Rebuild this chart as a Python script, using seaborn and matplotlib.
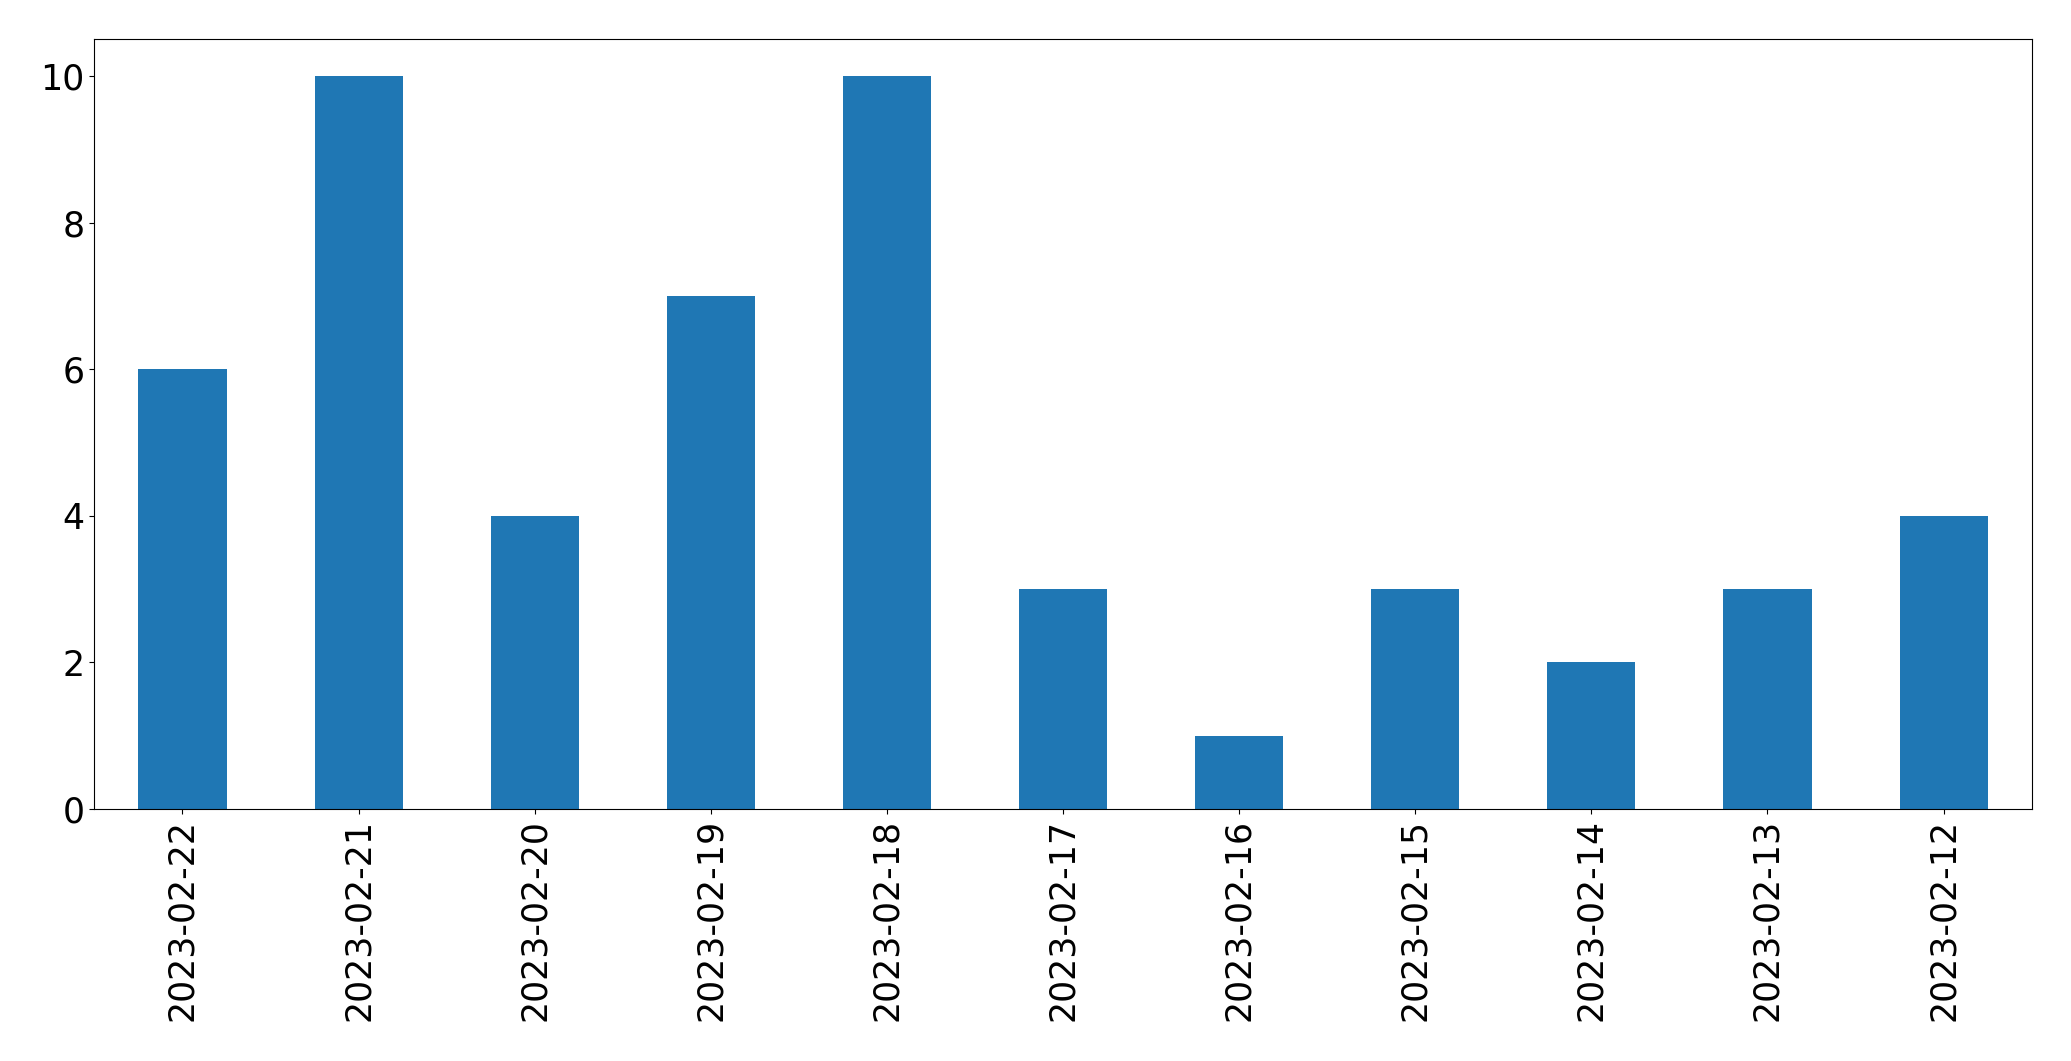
import pandas as pd
import matplotlib
matplotlib.use("Agg")
import matplotlib.pyplot as plt
import seaborn as sns

# daily counts, newest first (as in the reference)
dates = ["2023-02-22", "2023-02-21", "2023-02-20", "2023-02-19", "2023-02-18",
         "2023-02-17", "2023-02-16", "2023-02-15", "2023-02-14", "2023-02-13",
         "2023-02-12"]
counts = [6, 10, 4, 7, 10, 3, 1, 3, 2, 3, 4]

df = pd.DataFrame({"date": dates, "count": counts})

fig, ax = plt.subplots(figsize=(20.71, 10.61), dpi=100)
sns.barplot(data=df, x="date", y="count", order=dates, color="#1f77b4",
            saturation=1, width=0.5, linewidth=0, ax=ax)

ax.set_xlabel("")
ax.set_ylabel("")
ax.tick_params(axis="both", labelsize=25)
ax.tick_params(axis="x", labelrotation=90)
ax.set_xlim(-0.5, len(dates) - 0.5)
ax.set_ylim(0, 10.5)

plt.subplots_adjust(left=0.0456, right=0.981, top=0.9628, bottom=0.2375)
plt.savefig("out.png", dpi=100)
plt.close()
